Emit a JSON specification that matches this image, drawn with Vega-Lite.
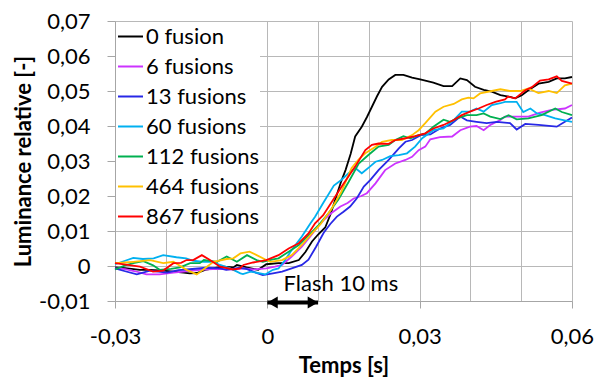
{
"$schema": "https://vega.github.io/schema/vega-lite/v6.json",
"width": 457, "height": 280,
"autosize": {"type": "none"},
"padding": {"left": 115, "top": 21, "right": 25, "bottom": 77},
"background": "white",
"config": {"view": {"stroke": null}, "font": "Lato"},
"datasets": {
"lines": [
{"s":"0 fusion","t":-0.03,"L":-0.0004},{"s":"0 fusion","t":-0.028,"L":-0.0006},{"s":"0 fusion","t":-0.0251,"L":-0.0011},{"s":"0 fusion","t":-0.0231,"L":-0.0011},{"s":"0 fusion","t":-0.0205,"L":-0.0013},{"s":"0 fusion","t":-0.0185,"L":-0.0016},{"s":"0 fusion","t":-0.0165,"L":-0.0019},{"s":"0 fusion","t":-0.0153,"L":-0.0021},{"s":"0 fusion","t":-0.0139,"L":-0.002},{"s":"0 fusion","t":-0.012,"L":-0.001},{"s":"0 fusion","t":-0.01,"L":-0.0005},{"s":"0 fusion","t":-0.0086,"L":-0.0002},{"s":"0 fusion","t":-0.0067,"L":-0.0004},{"s":"0 fusion","t":-0.006,"L":0.0003},{"s":"0 fusion","t":-0.0041,"L":-0.0004},{"s":"0 fusion","t":-0.0018,"L":-0.0011},{"s":"0 fusion","t":-0.0002,"L":0.0005},{"s":"0 fusion","t":0.0022,"L":0.0008},{"s":"0 fusion","t":0.0042,"L":0.0008},{"s":"0 fusion","t":0.0062,"L":0.0017},{"s":"0 fusion","t":0.0075,"L":0.004},{"s":"0 fusion","t":0.0088,"L":0.007},{"s":"0 fusion","t":0.01,"L":0.009},{"s":"0 fusion","t":0.0114,"L":0.011},{"s":"0 fusion","t":0.0125,"L":0.015},{"s":"0 fusion","t":0.0136,"L":0.02},{"s":"0 fusion","t":0.0145,"L":0.024},{"s":"0 fusion","t":0.0154,"L":0.0274},{"s":"0 fusion","t":0.0164,"L":0.032},{"s":"0 fusion","t":0.0173,"L":0.037},{"s":"0 fusion","t":0.0186,"L":0.0398},{"s":"0 fusion","t":0.0196,"L":0.0425},{"s":"0 fusion","t":0.0206,"L":0.0455},{"s":"0 fusion","t":0.0216,"L":0.0485},{"s":"0 fusion","t":0.0226,"L":0.0512},{"s":"0 fusion","t":0.0239,"L":0.0533},{"s":"0 fusion","t":0.0252,"L":0.0546},{"s":"0 fusion","t":0.0268,"L":0.0546},{"s":"0 fusion","t":0.0285,"L":0.0538},{"s":"0 fusion","t":0.0301,"L":0.0533},{"s":"0 fusion","t":0.0327,"L":0.0524},{"s":"0 fusion","t":0.0347,"L":0.0514},{"s":"0 fusion","t":0.0364,"L":0.0514},{"s":"0 fusion","t":0.038,"L":0.0536},{"s":"0 fusion","t":0.0393,"L":0.0531},{"s":"0 fusion","t":0.0409,"L":0.0512},{"s":"0 fusion","t":0.0426,"L":0.0503},{"s":"0 fusion","t":0.0442,"L":0.0498},{"s":"0 fusion","t":0.0459,"L":0.0488},{"s":"0 fusion","t":0.0478,"L":0.0483},{"s":"0 fusion","t":0.0488,"L":0.0479},{"s":"0 fusion","t":0.0501,"L":0.0488},{"s":"0 fusion","t":0.0514,"L":0.0502},{"s":"0 fusion","t":0.0534,"L":0.0521},{"s":"0 fusion","t":0.0554,"L":0.0526},{"s":"0 fusion","t":0.057,"L":0.0536},{"s":"0 fusion","t":0.0586,"L":0.0536},{"s":"0 fusion","t":0.06,"L":0.054},
{"s":"6 fusions","t":-0.03,"L":-0.0007},{"s":"6 fusions","t":-0.028,"L":-0.0009},{"s":"6 fusions","t":-0.026,"L":-0.0015},{"s":"6 fusions","t":-0.0238,"L":-0.0024},{"s":"6 fusions","t":-0.0212,"L":-0.0024},{"s":"6 fusions","t":-0.0185,"L":-0.0019},{"s":"6 fusions","t":-0.016,"L":-0.0015},{"s":"6 fusions","t":-0.0133,"L":-0.0011},{"s":"6 fusions","t":-0.01,"L":-0.0008},{"s":"6 fusions","t":-0.0067,"L":-0.001},{"s":"6 fusions","t":-0.0045,"L":-0.0007},{"s":"6 fusions","t":-0.0028,"L":-0.001},{"s":"6 fusions","t":-0.0002,"L":-0.0007},{"s":"6 fusions","t":0.0015,"L":-0.0002},{"s":"6 fusions","t":0.0029,"L":0.0003},{"s":"6 fusions","t":0.0048,"L":0.0027},{"s":"6 fusions","t":0.0068,"L":0.0055},{"s":"6 fusions","t":0.0085,"L":0.0085},{"s":"6 fusions","t":0.0098,"L":0.011},{"s":"6 fusions","t":0.0111,"L":0.0131},{"s":"6 fusions","t":0.0125,"L":0.015},{"s":"6 fusions","t":0.0144,"L":0.017},{"s":"6 fusions","t":0.0158,"L":0.018},{"s":"6 fusions","t":0.017,"L":0.0193},{"s":"6 fusions","t":0.0185,"L":0.02},{"s":"6 fusions","t":0.0196,"L":0.0208},{"s":"6 fusions","t":0.0213,"L":0.0236},{"s":"6 fusions","t":0.0232,"L":0.0274},{"s":"6 fusions","t":0.0252,"L":0.0293},{"s":"6 fusions","t":0.0272,"L":0.0303},{"s":"6 fusions","t":0.0285,"L":0.0312},{"s":"6 fusions","t":0.0298,"L":0.0331},{"s":"6 fusions","t":0.0311,"L":0.0341},{"s":"6 fusions","t":0.0321,"L":0.0362},{"s":"6 fusions","t":0.034,"L":0.0368},{"s":"6 fusions","t":0.0364,"L":0.037},{"s":"6 fusions","t":0.038,"L":0.0388},{"s":"6 fusions","t":0.0399,"L":0.0398},{"s":"6 fusions","t":0.0412,"L":0.04},{"s":"6 fusions","t":0.0426,"L":0.0388},{"s":"6 fusions","t":0.0439,"L":0.0403},{"s":"6 fusions","t":0.0459,"L":0.0417},{"s":"6 fusions","t":0.0468,"L":0.0427},{"s":"6 fusions","t":0.0488,"L":0.0427},{"s":"6 fusions","t":0.0514,"L":0.0427},{"s":"6 fusions","t":0.0537,"L":0.0438},{"s":"6 fusions","t":0.056,"L":0.0446},{"s":"6 fusions","t":0.0586,"L":0.045},{"s":"6 fusions","t":0.06,"L":0.046},
{"s":"13 fusions","t":-0.03,"L":-0.0007},{"s":"13 fusions","t":-0.028,"L":-0.0015},{"s":"13 fusions","t":-0.0257,"L":-0.0024},{"s":"13 fusions","t":-0.0231,"L":-0.0013},{"s":"13 fusions","t":-0.0215,"L":-0.0016},{"s":"13 fusions","t":-0.0198,"L":-0.0019},{"s":"13 fusions","t":-0.0175,"L":-0.0012},{"s":"13 fusions","t":-0.0159,"L":-0.001},{"s":"13 fusions","t":-0.012,"L":-0.0005},{"s":"13 fusions","t":-0.0093,"L":-0.0007},{"s":"13 fusions","t":-0.0081,"L":-0.0011},{"s":"13 fusions","t":-0.0054,"L":-0.0005},{"s":"13 fusions","t":-0.004,"L":-0.0009},{"s":"13 fusions","t":-0.0028,"L":-0.0016},{"s":"13 fusions","t":-0.0009,"L":-0.0026},{"s":"13 fusions","t":0.0011,"L":-0.0021},{"s":"13 fusions","t":0.0029,"L":-0.0016},{"s":"13 fusions","t":0.0048,"L":-0.0007},{"s":"13 fusions","t":0.0068,"L":0.0003},{"s":"13 fusions","t":0.0081,"L":0.0018},{"s":"13 fusions","t":0.0096,"L":0.0055},{"s":"13 fusions","t":0.0111,"L":0.0095},{"s":"13 fusions","t":0.0124,"L":0.012},{"s":"13 fusions","t":0.0137,"L":0.0141},{"s":"13 fusions","t":0.015,"L":0.0155},{"s":"13 fusions","t":0.0163,"L":0.017},{"s":"13 fusions","t":0.0176,"L":0.0193},{"s":"13 fusions","t":0.019,"L":0.0227},{"s":"13 fusions","t":0.0203,"L":0.0246},{"s":"13 fusions","t":0.0219,"L":0.0274},{"s":"13 fusions","t":0.0239,"L":0.0303},{"s":"13 fusions","t":0.0259,"L":0.0336},{"s":"13 fusions","t":0.0272,"L":0.0355},{"s":"13 fusions","t":0.0285,"L":0.036},{"s":"13 fusions","t":0.0302,"L":0.0374},{"s":"13 fusions","t":0.0321,"L":0.0376},{"s":"13 fusions","t":0.034,"L":0.0393},{"s":"13 fusions","t":0.036,"L":0.0403},{"s":"13 fusions","t":0.038,"L":0.0427},{"s":"13 fusions","t":0.0393,"L":0.0416},{"s":"13 fusions","t":0.0412,"L":0.0412},{"s":"13 fusions","t":0.0432,"L":0.0408},{"s":"13 fusions","t":0.0452,"L":0.0412},{"s":"13 fusions","t":0.0478,"L":0.0408},{"s":"13 fusions","t":0.0491,"L":0.039},{"s":"13 fusions","t":0.0508,"L":0.0406},{"s":"13 fusions","t":0.0534,"L":0.0403},{"s":"13 fusions","t":0.057,"L":0.0398},{"s":"13 fusions","t":0.0586,"L":0.0412},{"s":"13 fusions","t":0.06,"L":0.0424},
{"s":"60 fusions","t":-0.03,"L":0.0005},{"s":"60 fusions","t":-0.028,"L":0.0015},{"s":"60 fusions","t":-0.0264,"L":0.0023},{"s":"60 fusions","t":-0.0245,"L":0.002},{"s":"60 fusions","t":-0.0224,"L":0.0022},{"s":"60 fusions","t":-0.0205,"L":0.0031},{"s":"60 fusions","t":-0.0179,"L":0.0025},{"s":"60 fusions","t":-0.016,"L":0.0022},{"s":"60 fusions","t":-0.0146,"L":0.0015},{"s":"60 fusions","t":-0.0125,"L":0.0012},{"s":"60 fusions","t":-0.0107,"L":0.0012},{"s":"60 fusions","t":-0.0093,"L":0.0003},{"s":"60 fusions","t":-0.0073,"L":-0.0007},{"s":"60 fusions","t":-0.0053,"L":-0.0021},{"s":"60 fusions","t":-0.0048,"L":-0.0023},{"s":"60 fusions","t":-0.0033,"L":-0.0016},{"s":"60 fusions","t":-0.0014,"L":-0.0021},{"s":"60 fusions","t":-0.0004,"L":-0.0024},{"s":"60 fusions","t":0.0011,"L":-0.0011},{"s":"60 fusions","t":0.0022,"L":-0.0007},{"s":"60 fusions","t":0.0035,"L":0.0017},{"s":"60 fusions","t":0.0048,"L":0.0046},{"s":"60 fusions","t":0.0068,"L":0.0084},{"s":"60 fusions","t":0.0085,"L":0.0122},{"s":"60 fusions","t":0.0094,"L":0.0141},{"s":"60 fusions","t":0.011,"L":0.018},{"s":"60 fusions","t":0.0131,"L":0.023},{"s":"60 fusions","t":0.0145,"L":0.0245},{"s":"60 fusions","t":0.016,"L":0.0265},{"s":"60 fusions","t":0.0173,"L":0.028},{"s":"60 fusions","t":0.0186,"L":0.0265},{"s":"60 fusions","t":0.0202,"L":0.0284},{"s":"60 fusions","t":0.0213,"L":0.0298},{"s":"60 fusions","t":0.0226,"L":0.0303},{"s":"60 fusions","t":0.0242,"L":0.0314},{"s":"60 fusions","t":0.0259,"L":0.0317},{"s":"60 fusions","t":0.0275,"L":0.0322},{"s":"60 fusions","t":0.0291,"L":0.0341},{"s":"60 fusions","t":0.0305,"L":0.0365},{"s":"60 fusions","t":0.0327,"L":0.0388},{"s":"60 fusions","t":0.0347,"L":0.0393},{"s":"60 fusions","t":0.0367,"L":0.0417},{"s":"60 fusions","t":0.0383,"L":0.0441},{"s":"60 fusions","t":0.0399,"L":0.0441},{"s":"60 fusions","t":0.0412,"L":0.045},{"s":"60 fusions","t":0.0426,"L":0.0441},{"s":"60 fusions","t":0.0442,"L":0.046},{"s":"60 fusions","t":0.0459,"L":0.0465},{"s":"60 fusions","t":0.0468,"L":0.0469},{"s":"60 fusions","t":0.0491,"L":0.0469},{"s":"60 fusions","t":0.0504,"L":0.044},{"s":"60 fusions","t":0.0518,"L":0.045},{"s":"60 fusions","t":0.0531,"L":0.0436},{"s":"60 fusions","t":0.0547,"L":0.0431},{"s":"60 fusions","t":0.0567,"L":0.0422},{"s":"60 fusions","t":0.0583,"L":0.0417},{"s":"60 fusions","t":0.06,"L":0.0412},
{"s":"112 fusions","t":-0.03,"L":-0.001},{"s":"112 fusions","t":-0.028,"L":0.0002},{"s":"112 fusions","t":-0.0264,"L":0.0008},{"s":"112 fusions","t":-0.0244,"L":0.0014},{"s":"112 fusions","t":-0.0225,"L":0.0002},{"s":"112 fusions","t":-0.0212,"L":-0.0011},{"s":"112 fusions","t":-0.019,"L":-0.0008},{"s":"112 fusions","t":-0.0172,"L":-0.0004},{"s":"112 fusions","t":-0.0152,"L":0.0008},{"s":"112 fusions","t":-0.0133,"L":0.0008},{"s":"112 fusions","t":-0.0125,"L":0.0017},{"s":"112 fusions","t":-0.0099,"L":0.0012},{"s":"112 fusions","t":-0.008,"L":0.0027},{"s":"112 fusions","t":-0.006,"L":0.0012},{"s":"112 fusions","t":-0.004,"L":0.0031},{"s":"112 fusions","t":-0.0021,"L":0.0017},{"s":"112 fusions","t":-0.0009,"L":0.0012},{"s":"112 fusions","t":0.0011,"L":0.0019},{"s":"112 fusions","t":0.0022,"L":0.0022},{"s":"112 fusions","t":0.0042,"L":0.0041},{"s":"112 fusions","t":0.0062,"L":0.006},{"s":"112 fusions","t":0.0085,"L":0.0093},{"s":"112 fusions","t":0.01,"L":0.0115},{"s":"112 fusions","t":0.012,"L":0.015},{"s":"112 fusions","t":0.014,"L":0.019},{"s":"112 fusions","t":0.016,"L":0.024},{"s":"112 fusions","t":0.018,"L":0.0293},{"s":"112 fusions","t":0.0199,"L":0.0317},{"s":"112 fusions","t":0.0219,"L":0.0341},{"s":"112 fusions","t":0.0239,"L":0.0346},{"s":"112 fusions","t":0.0252,"L":0.036},{"s":"112 fusions","t":0.0268,"L":0.0371},{"s":"112 fusions","t":0.0282,"L":0.0365},{"s":"112 fusions","t":0.0298,"L":0.0374},{"s":"112 fusions","t":0.0311,"L":0.0378},{"s":"112 fusions","t":0.0327,"L":0.0398},{"s":"112 fusions","t":0.0347,"L":0.0418},{"s":"112 fusions","t":0.036,"L":0.0412},{"s":"112 fusions","t":0.0374,"L":0.0422},{"s":"112 fusions","t":0.0393,"L":0.0431},{"s":"112 fusions","t":0.0412,"L":0.0431},{"s":"112 fusions","t":0.0426,"L":0.0436},{"s":"112 fusions","t":0.0439,"L":0.0427},{"s":"112 fusions","t":0.0459,"L":0.042},{"s":"112 fusions","t":0.0475,"L":0.0431},{"s":"112 fusions","t":0.0491,"L":0.0419},{"s":"112 fusions","t":0.0514,"L":0.0422},{"s":"112 fusions","t":0.054,"L":0.0431},{"s":"112 fusions","t":0.0567,"L":0.045},{"s":"112 fusions","t":0.058,"L":0.044},{"s":"112 fusions","t":0.06,"L":0.0431},
{"s":"464 fusions","t":-0.03,"L":0.0008},{"s":"464 fusions","t":-0.028,"L":0.001},{"s":"464 fusions","t":-0.0264,"L":0.0012},{"s":"464 fusions","t":-0.0231,"L":0.0017},{"s":"464 fusions","t":-0.0205,"L":0.0008},{"s":"464 fusions","t":-0.0185,"L":0.0012},{"s":"464 fusions","t":-0.0159,"L":-0.0011},{"s":"464 fusions","t":-0.0139,"L":-0.0024},{"s":"464 fusions","t":-0.0119,"L":-0.0002},{"s":"464 fusions","t":-0.0106,"L":0.0012},{"s":"464 fusions","t":-0.008,"L":0.002},{"s":"464 fusions","t":-0.0067,"L":0.0022},{"s":"464 fusions","t":-0.0053,"L":0.0036},{"s":"464 fusions","t":-0.0035,"L":0.0041},{"s":"464 fusions","t":-0.0021,"L":0.0031},{"s":"464 fusions","t":-0.0002,"L":0.0017},{"s":"464 fusions","t":0.0006,"L":0.0012},{"s":"464 fusions","t":0.0029,"L":0.0017},{"s":"464 fusions","t":0.0048,"L":0.0031},{"s":"464 fusions","t":0.0068,"L":0.006},{"s":"464 fusions","t":0.0088,"L":0.0093},{"s":"464 fusions","t":0.0105,"L":0.012},{"s":"464 fusions","t":0.0125,"L":0.016},{"s":"464 fusions","t":0.0145,"L":0.021},{"s":"464 fusions","t":0.0166,"L":0.028},{"s":"464 fusions","t":0.018,"L":0.0305},{"s":"464 fusions","t":0.0193,"L":0.0322},{"s":"464 fusions","t":0.0213,"L":0.0341},{"s":"464 fusions","t":0.0226,"L":0.0355},{"s":"464 fusions","t":0.0245,"L":0.036},{"s":"464 fusions","t":0.0265,"L":0.036},{"s":"464 fusions","t":0.0285,"L":0.0374},{"s":"464 fusions","t":0.0298,"L":0.0388},{"s":"464 fusions","t":0.0311,"L":0.0408},{"s":"464 fusions","t":0.0331,"L":0.0441},{"s":"464 fusions","t":0.0347,"L":0.0455},{"s":"464 fusions","t":0.0367,"L":0.0463},{"s":"464 fusions","t":0.0383,"L":0.0476},{"s":"464 fusions","t":0.0396,"L":0.0481},{"s":"464 fusions","t":0.0406,"L":0.0479},{"s":"464 fusions","t":0.0419,"L":0.0493},{"s":"464 fusions","t":0.0442,"L":0.05},{"s":"464 fusions","t":0.0459,"L":0.0505},{"s":"464 fusions","t":0.0478,"L":0.05},{"s":"464 fusions","t":0.0498,"L":0.05},{"s":"464 fusions","t":0.0514,"L":0.0507},{"s":"464 fusions","t":0.0534,"L":0.0494},{"s":"464 fusions","t":0.0554,"L":0.05},{"s":"464 fusions","t":0.057,"L":0.0494},{"s":"464 fusions","t":0.0586,"L":0.0516},{"s":"464 fusions","t":0.06,"L":0.0521},
{"s":"867 fusions","t":-0.03,"L":0.0008},{"s":"867 fusions","t":-0.0275,"L":0.0003},{"s":"867 fusions","t":-0.0251,"L":-0.0002},{"s":"867 fusions","t":-0.0225,"L":-0.0016},{"s":"867 fusions","t":-0.0205,"L":-0.0013},{"s":"867 fusions","t":-0.0185,"L":0.0008},{"s":"867 fusions","t":-0.017,"L":0.0009},{"s":"867 fusions","t":-0.0159,"L":0.0017},{"s":"867 fusions","t":-0.0146,"L":0.0017},{"s":"867 fusions","t":-0.0129,"L":0.0031},{"s":"867 fusions","t":-0.0113,"L":0.0017},{"s":"867 fusions","t":-0.0093,"L":-0.0002},{"s":"867 fusions","t":-0.0067,"L":-0.001},{"s":"867 fusions","t":-0.0054,"L":-0.0007},{"s":"867 fusions","t":-0.0047,"L":0.0003},{"s":"867 fusions","t":-0.0028,"L":0.001},{"s":"867 fusions","t":-0.0002,"L":0.0017},{"s":"867 fusions","t":0.0022,"L":0.0031},{"s":"867 fusions","t":0.0042,"L":0.005},{"s":"867 fusions","t":0.0062,"L":0.0065},{"s":"867 fusions","t":0.0081,"L":0.0093},{"s":"867 fusions","t":0.0094,"L":0.0122},{"s":"867 fusions","t":0.011,"L":0.0145},{"s":"867 fusions","t":0.013,"L":0.019},{"s":"867 fusions","t":0.015,"L":0.0235},{"s":"867 fusions","t":0.0173,"L":0.0284},{"s":"867 fusions","t":0.0193,"L":0.0331},{"s":"867 fusions","t":0.0206,"L":0.0346},{"s":"867 fusions","t":0.0219,"L":0.035},{"s":"867 fusions","t":0.0239,"L":0.0349},{"s":"867 fusions","t":0.0252,"L":0.036},{"s":"867 fusions","t":0.0272,"L":0.0365},{"s":"867 fusions","t":0.0291,"L":0.0371},{"s":"867 fusions","t":0.0311,"L":0.0379},{"s":"867 fusions","t":0.0327,"L":0.0393},{"s":"867 fusions","t":0.0347,"L":0.0403},{"s":"867 fusions","t":0.0367,"L":0.0417},{"s":"867 fusions","t":0.0383,"L":0.0431},{"s":"867 fusions","t":0.0399,"L":0.0441},{"s":"867 fusions","t":0.0416,"L":0.045},{"s":"867 fusions","t":0.0432,"L":0.046},{"s":"867 fusions","t":0.0449,"L":0.0469},{"s":"867 fusions","t":0.0468,"L":0.0476},{"s":"867 fusions","t":0.0474,"L":0.0484},{"s":"867 fusions","t":0.0488,"L":0.0479},{"s":"867 fusions","t":0.0508,"L":0.0502},{"s":"867 fusions","t":0.0521,"L":0.0511},{"s":"867 fusions","t":0.0537,"L":0.053},{"s":"867 fusions","t":0.0554,"L":0.0533},{"s":"867 fusions","t":0.057,"L":0.0542},{"s":"867 fusions","t":0.058,"L":0.0529},{"s":"867 fusions","t":0.06,"L":0.0521}
],
"arrow": [{"x0": 0, "x1": 0.01, "y": -0.01}],
"note": [{"x": 0.0032, "y": -0.0071, "text": "Flash 10 ms"}]
},
"layer": [
{
"data": {"name": "lines"},
"mark": {"type": "line", "strokeWidth": 1.8},
"encoding": {
"x": {"field": "t", "type": "quantitative", "title": "Temps [s]",
 "scale": {"domain": [-0.03, 0.06], "nice": false, "zero": false},
 "axis": {"values": [-0.03,-0.02,-0.01,0,0.01,0.02,0.03,0.04,0.05,0.06], "tickCount": 20,
  "labelExpr": "round(datum.value*100) % 3 == 0 ? (abs(datum.value) < 0.0001 ? '0' : replace(replace(format(datum.value, '.2f'), '.', ','), '\u2212', '-')) : ''",
  "tickSize": {"condition": {"test": "round(datum.value*100) % 3 == 0", "value": 7}, "value": 0},
  "grid": true, "gridColor": "#b8b8b8", "gridWidth": 1, "domainColor": "#a6a6a6", "tickColor": "#a6a6a6",
  "labelFont": "Lato", "labelFontSize": 22, "labelColor": "black", "labelPadding": 18, "labelFlush": false, "labelOverlap": false,
  "titleFont": "Lato", "titleFontSize": 22, "titleFontWeight": "bold", "titleColor": "black", "titlePadding": 8}},
"y": {"field": "L", "type": "quantitative", "title": "Luminance relative [-]",
 "scale": {"domain": [-0.01, 0.07], "nice": false, "zero": false},
 "axis": {"values": [-0.01,0,0.01,0.02,0.03,0.04,0.05,0.06,0.07], "tickCount": 20,
  "labelExpr": "abs(datum.value) < 0.0001 ? '0' : replace(replace(format(datum.value, '.2f'), '.', ','), '\u2212', '-')",
  "tickSize": 8, "grid": true, "gridColor": "#b8b8b8", "gridWidth": 1, "domainColor": "#a6a6a6", "tickColor": "#a6a6a6",
  "labelFont": "Lato", "labelFontSize": 22, "labelColor": "black", "labelPadding": 17, "labelOverlap": false, "labelFlush": false,
  "titleFont": "Lato", "titleFontSize": 22, "titleFontWeight": "bold", "titleColor": "black", "titlePadding": 3}},
"color": {"field": "s", "type": "nominal",
 "scale": {"domain": ["0 fusion","6 fusions","13 fusions","60 fusions","112 fusions","464 fusions","867 fusions"],
  "range": ["#000000","#CC33FF","#2828E6","#00B0F0","#00B050","#FFC000","#FF0000"]},
 "legend": {"orient": "top-left", "offset": 1, "title": null, "fillColor": "white", "padding": 1,
  "symbolType": "stroke", "symbolSize": 625, "symbolStrokeWidth": 2, "labelFont": "Lato", "labelFontSize": 22,
  "labelColor": "black", "labelOffset": 2, "rowPadding": 5, "labelLimit": 300}}
}
},
{
"data": {"name": "arrow"},
"mark": {"type": "rule", "strokeWidth": 4, "color": "black", "yOffset": 1.5},
"encoding": {
"x": {"field": "x0", "type": "quantitative", "title": "Temps [s]"},
"x2": {"field": "x1"},
"y": {"field": "y", "type": "quantitative", "title": "Luminance relative [-]"}
}
},
{
"data": {"name": "arrow"},
"mark": {"type": "point", "shape": "triangle-left", "size": 144, "filled": true, "color": "black", "opacity": 1, "xOffset": 5.2, "yOffset": 1.5},
"encoding": {
"x": {"field": "x0", "type": "quantitative", "title": "Temps [s]"},
"y": {"field": "y", "type": "quantitative", "title": "Luminance relative [-]"}
}
},
{
"data": {"name": "arrow"},
"mark": {"type": "point", "shape": "triangle-right", "size": 144, "filled": true, "color": "black", "opacity": 1, "xOffset": -5.2, "yOffset": 1.5},
"encoding": {
"x": {"field": "x1", "type": "quantitative", "title": "Temps [s]"},
"y": {"field": "y", "type": "quantitative", "title": "Luminance relative [-]"}
}
},
{
"data": {"name": "note"},
"mark": {"type": "text", "align": "left", "baseline": "alphabetic", "font": "Lato", "fontSize": 22, "color": "black"},
"encoding": {
"x": {"field": "x", "type": "quantitative", "title": "Temps [s]"},
"y": {"field": "y", "type": "quantitative", "title": "Luminance relative [-]"},
"text": {"field": "text"}
}
}
]
}
